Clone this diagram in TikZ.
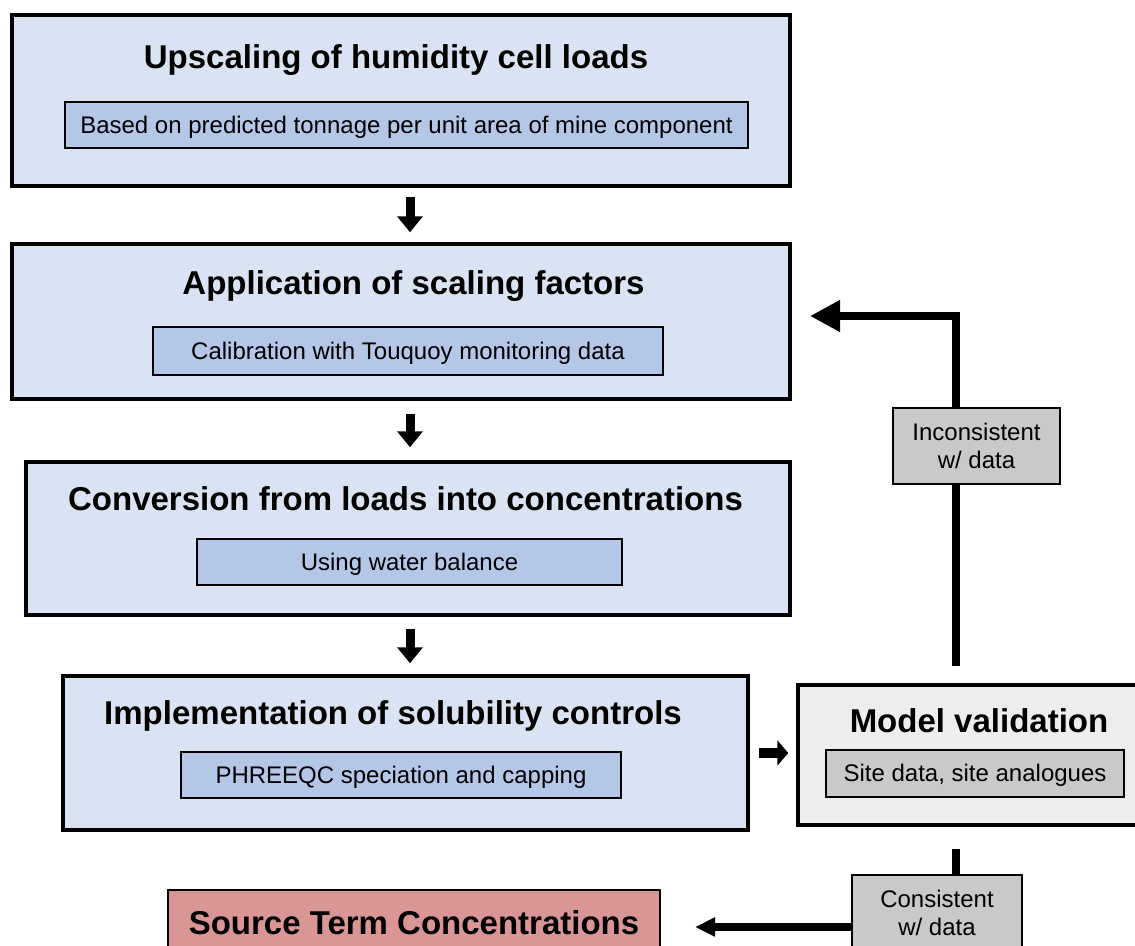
\documentclass[tikz,border=0pt]{standalone}
\usepackage{fontspec}
\setmainfont{Liberation Sans}
\usetikzlibrary{arrows.meta}

\definecolor{stagefill}{RGB}{218,227,243}
\definecolor{notefill}{RGB}{180,199,231}
\definecolor{checkfill}{RGB}{237,237,237}
\definecolor{greynote}{RGB}{201,201,201}
\definecolor{resultfill}{RGB}{218,150,148}

\tikzset{
  stage/.style={draw, line width=3.5pt, fill=stagefill, inner sep=0pt},
  stagetitle/.style={font=\bfseries\fontsize{33}{38}\selectfont, inner sep=0pt,
    text height=27pt, text depth=4pt},
  note/.style={draw, line width=1.3pt, fill=notefill, inner sep=0pt,
    font=\fontsize{24}{28}\selectfont, text height=19pt, text depth=3pt},
  tag/.style={draw, line width=1.3pt, fill=greynote, inner sep=0pt, align=center,
    font=\fontsize{24}{28}\selectfont},
  stepflow/.style={line width=9pt, -{Triangle[length=16pt,width=25pt]}},
  loopflow/.style={line width=8pt, -{Triangle[length=30pt,width=30pt]}},
  backflow/.style={line width=8pt, -{Triangle[length=20pt,width=18pt]}},
}

\begin{document}
\begin{tikzpicture}[x=1pt, y=-1pt]
	\clip (0,0) rectangle (1135,945);
	\fill[white] (0,0) rectangle (1135,945);
	
	% the four stages
	\node[stage, minimum width=778pt, minimum height=171pt] (upscale) at (401,100.5) {};
	\node[stagetitle] (upscaleT) at (396,57) {Upscaling of humidity cell loads};
	\node[note, minimum width=683pt, minimum height=46pt] (upscaleN) at (406.5,125)
		{Based on predicted tonnage per unit area of mine component};
	
	\node[stage, minimum width=778pt, minimum height=155pt] (scaling) at (401,321.5) {};
	\node[stagetitle] (scalingT) at (413.5,283) {Application of scaling factors};
	\node[note, minimum width=510pt, minimum height=48pt] (scalingN) at (408,351)
		{Calibration with Touquoy monitoring data};
	
	\node[stage, minimum width=764pt, minimum height=153pt] (convert) at (408,538.5) {};
	\node[stagetitle] (convertT) at (405.5,499) {Conversion from loads into concentrations};
	\node[note, minimum width=425pt, minimum height=46pt] (convertN) at (409.5,562)
		{Using water balance};
	
	\node[stage, minimum width=685pt, minimum height=154pt] (solubility) at (405.5,753) {};
	\node[stagetitle] (solubilityT) at (393,713) {Implementation of solubility controls};
	\node[note, minimum width=440pt, minimum height=46pt] (solubilityN) at (401,775)
		{PHREEQC speciation and capping};
	
	% validation box (runs off the right edge)
	\node[stage, fill=checkfill, minimum width=352pt, minimum height=140pt] (valid) at (974,755) {};
	\node[stagetitle] (validT) at (979,721) {Model validation};
	\node[note, fill=greynote, minimum width=298pt, minimum height=47pt] (validN) at (975,773.5)
		{Site data, site analogues};
	
	% result
	\node[draw, line width=1.3pt, fill=resultfill, minimum width=492pt, minimum height=66pt,
		stagetitle] (source) at (414,923) {Source Term Concentrations};
	
	% check labels
	\node[tag, minimum width=167pt, minimum height=76pt] (incons) at (976.5,446) {Inconsistent\\w/ data};
	\node[tag, minimum width=170pt, minimum height=76pt] (cons) at (937,913) {Consistent\\w/ data};
	
	\coordinate (spine) at (410,0);
	\coordinate (loopx) at (956,0);
	\coordinate (fbtip) at (810,316);
	\coordinate (srctip) at (695,927);
	
	% main flow
	\draw[stepflow, shorten <=9pt, shorten >=10pt] (upscale.south -| spine) -- (scaling.north -| spine);
	\draw[stepflow, shorten <=13pt, shorten >=13pt] (scaling.south -| spine) -- (convert.north -| spine);
	\draw[stepflow, shorten <=12pt, shorten >=11pt] (convert.south -| spine) -- (solubility.north -| spine);
	\draw[line width=10pt, -{Triangle[length=11pt,width=25pt]}, shorten <=9pt, shorten >=8pt]
		(solubility.east) -- (valid.west |- solubility.east);
	
	% feedback loop
	\draw[line width=8pt, shorten <=17pt] (valid.north -| loopx) -- (incons.south -| loopx);
	\draw[loopflow] (incons.north -| loopx) |- (fbtip);
	\draw[line width=8pt, shorten <=22pt] (valid.south -| loopx) -- (cons.north -| loopx);
	\draw[backflow] (cons.west |- srctip) -- (srctip);
	
\end{tikzpicture}
\end{document}
